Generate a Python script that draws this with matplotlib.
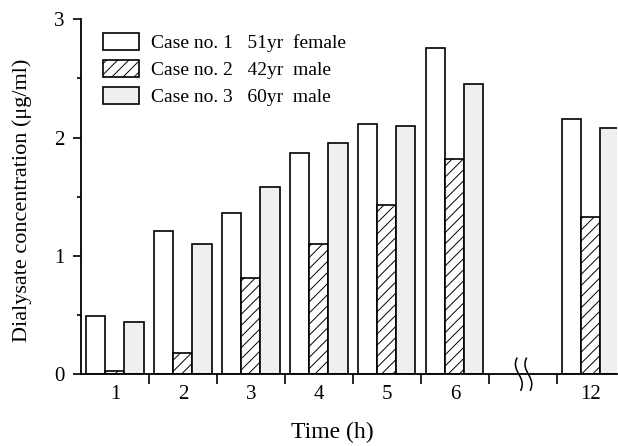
import numpy as np
import matplotlib.pyplot as plt

plt.rcParams['font.family'] = ['Liberation Serif', 'DejaVu Serif']
plt.rcParams['hatch.linewidth'] = 0.7

# data
times = ['1', '2', '3', '4', '5', '6', '12']
case1 = [0.49, 1.21, 1.36, 1.87, 2.11, 2.76, 2.16]
case2 = [0.03, 0.18, 0.81, 1.10, 1.43, 1.82, 1.33]
case3 = [0.44, 1.10, 1.58, 1.95, 2.10, 2.45, 2.08]
labels = ['Case no. 1   51yr  female',
          'Case no. 2   42yr  male',
          'Case no. 3   60yr  male']

# group positions, with an empty slot for the axis break before 12 h
pos = np.array([0, 1, 2, 3, 4, 5, 7])
w = 0.28

fig = plt.figure(figsize=(6.18, 4.46), dpi=100)
ax = fig.add_axes([0.131, 0.161, 0.867, 0.796])

ax.bar(pos - w, case1, w, facecolor='white', edgecolor='black', linewidth=1.2, label=labels[0])
ax.bar(pos, case2, w, facecolor='white', edgecolor='black', linewidth=1.2, hatch='///', label=labels[1])
ax.bar(pos + w, case3, w, facecolor='#efefef', edgecolor='black', linewidth=1.2, label=labels[2])

ax.set_xlim(-0.5, 7.38)
ax.set_ylim(0, 3)

ax.spines['top'].set_visible(False)
ax.spines['right'].set_visible(False)
ax.spines['left'].set_linewidth(1.3)
ax.spines['bottom'].set_linewidth(1.3)

ax.set_xticks(pos)
ax.set_xticklabels(times, fontsize=15)
ax.set_xticks(np.arange(7) + 0.5, minor=True)
ax.tick_params(axis='x', which='major', length=0, pad=8)
ax.tick_params(axis='x', which='minor', length=7, width=1.2, direction='out')

ax.set_yticks([0, 1, 2, 3])
ax.set_yticklabels(['0', '1', '2', '3'], fontsize=15)
ax.set_yticks([0.5, 1.5, 2.5], minor=True)
ax.tick_params(axis='y', which='major', length=6, width=1.2, direction='out', pad=6)
ax.tick_params(axis='y', which='minor', length=3, width=1.2, direction='out')

ax.set_xlabel('Time (h)', fontsize=17)
ax.xaxis.set_label_coords(0.47, -0.135)
ax.set_ylabel('Dialysate concentration (μg/ml)', fontsize=16)
ax.yaxis.set_label_coords(-0.092, 0.49)

# axis break marks
tt = np.linspace(-1, 1, 40)
trans = ax.get_xaxis_transform()
for x0 in [5.94, 6.08]:
    ax.plot(x0 - 0.05 * np.sin(tt * np.pi * 0.8), tt * 0.045,
            color='black', lw=1.1, transform=trans, clip_on=False)

ax.legend(loc='upper left', bbox_to_anchor=(0.041, 0.962), frameon=False,
          fontsize=14, handlelength=1.85, handleheight=1.0, handletextpad=0.6,
          labelspacing=0.4, borderpad=0, borderaxespad=0)

fig.savefig('out.png', dpi=100)
